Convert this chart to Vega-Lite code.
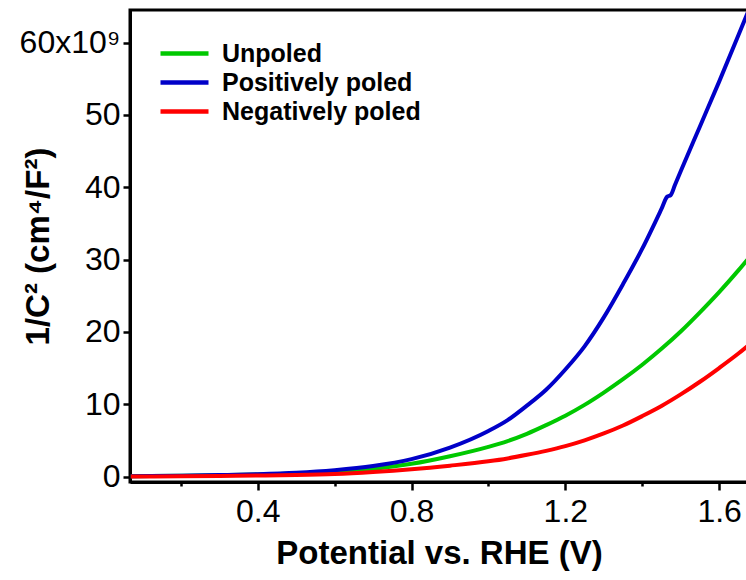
{
  "$schema": "https://vega.github.io/schema/vega-lite/v6.json",
  "width": 618,
  "height": 472,
  "autosize": {"type": "none"},
  "padding": {"left": 130, "top": 10, "right": 0, "bottom": 98},
  "background": "white",
  "config": {
    "view": {"stroke": "black", "strokeWidth": 3},
    "font": "Liberation Sans",
    "axis": {
      "domainColor": "black",
      "domainWidth": 3,
      "tickColor": "black",
      "tickWidth": 2.5,
      "grid": false,
      "labelColor": "black",
      "labelFont": "Liberation Sans",
      "labelFontSize": 32,
      "titleFont": "Liberation Sans",
      "titleFontSize": 33,
      "titleFontWeight": "bold",
      "titleColor": "black"
    }
  },
  "data": {
    "values": [
      {"s": "Unpoled", "v": 0.07, "c": 0.03},
      {"s": "Unpoled", "v": 0.2, "c": 0.1},
      {"s": "Unpoled", "v": 0.3, "c": 0.17},
      {"s": "Unpoled", "v": 0.4, "c": 0.27},
      {"s": "Unpoled", "v": 0.5, "c": 0.42},
      {"s": "Unpoled", "v": 0.6, "c": 0.65},
      {"s": "Unpoled", "v": 0.7, "c": 1.05},
      {"s": "Unpoled", "v": 0.8, "c": 1.75},
      {"s": "Unpoled", "v": 0.9, "c": 2.8},
      {"s": "Unpoled", "v": 1.0, "c": 4.1},
      {"s": "Unpoled", "v": 1.05, "c": 4.9},
      {"s": "Unpoled", "v": 1.1, "c": 5.9},
      {"s": "Unpoled", "v": 1.15, "c": 7.1},
      {"s": "Unpoled", "v": 1.2, "c": 8.4},
      {"s": "Unpoled", "v": 1.25, "c": 9.9},
      {"s": "Unpoled", "v": 1.3, "c": 11.6},
      {"s": "Unpoled", "v": 1.35, "c": 13.45},
      {"s": "Unpoled", "v": 1.4, "c": 15.45},
      {"s": "Unpoled", "v": 1.45, "c": 17.65},
      {"s": "Unpoled", "v": 1.5, "c": 20.05},
      {"s": "Unpoled", "v": 1.55, "c": 22.7},
      {"s": "Unpoled", "v": 1.6, "c": 25.5},
      {"s": "Unpoled", "v": 1.65, "c": 28.5},
      {"s": "Unpoled", "v": 1.68, "c": 30.4},
      {"s": "Positively poled", "v": 0.07, "c": 0.05},
      {"s": "Positively poled", "v": 0.2, "c": 0.12},
      {"s": "Positively poled", "v": 0.3, "c": 0.2},
      {"s": "Positively poled", "v": 0.4, "c": 0.32},
      {"s": "Positively poled", "v": 0.5, "c": 0.52},
      {"s": "Positively poled", "v": 0.6, "c": 0.88},
      {"s": "Positively poled", "v": 0.7, "c": 1.45},
      {"s": "Positively poled", "v": 0.8, "c": 2.4},
      {"s": "Positively poled", "v": 0.9, "c": 4.0},
      {"s": "Positively poled", "v": 1.0, "c": 6.3},
      {"s": "Positively poled", "v": 1.05, "c": 7.8},
      {"s": "Positively poled", "v": 1.1, "c": 9.8},
      {"s": "Positively poled", "v": 1.15, "c": 12.0},
      {"s": "Positively poled", "v": 1.2, "c": 14.8},
      {"s": "Positively poled", "v": 1.25, "c": 18.0},
      {"s": "Positively poled", "v": 1.3, "c": 22.0},
      {"s": "Positively poled", "v": 1.35, "c": 26.6},
      {"s": "Positively poled", "v": 1.4, "c": 31.5},
      {"s": "Positively poled", "v": 1.45, "c": 37.0},
      {"s": "Positively poled", "v": 1.465, "c": 38.7},
      {"s": "Positively poled", "v": 1.474, "c": 38.9},
      {"s": "Positively poled", "v": 1.485, "c": 40.3},
      {"s": "Positively poled", "v": 1.5, "c": 42.2},
      {"s": "Positively poled", "v": 1.55, "c": 48.4},
      {"s": "Positively poled", "v": 1.6, "c": 54.6},
      {"s": "Positively poled", "v": 1.65, "c": 61.0},
      {"s": "Positively poled", "v": 1.69, "c": 66.2},
      {"s": "Negatively poled", "v": 0.07, "c": 0.0},
      {"s": "Negatively poled", "v": 0.2, "c": 0.04},
      {"s": "Negatively poled", "v": 0.3, "c": 0.08},
      {"s": "Negatively poled", "v": 0.4, "c": 0.13},
      {"s": "Negatively poled", "v": 0.5, "c": 0.2},
      {"s": "Negatively poled", "v": 0.6, "c": 0.34},
      {"s": "Negatively poled", "v": 0.7, "c": 0.62},
      {"s": "Negatively poled", "v": 0.8, "c": 1.0},
      {"s": "Negatively poled", "v": 0.9, "c": 1.5},
      {"s": "Negatively poled", "v": 1.0, "c": 2.1},
      {"s": "Negatively poled", "v": 1.05, "c": 2.5},
      {"s": "Negatively poled", "v": 1.1, "c": 3.0},
      {"s": "Negatively poled", "v": 1.15, "c": 3.55},
      {"s": "Negatively poled", "v": 1.2, "c": 4.2},
      {"s": "Negatively poled", "v": 1.25, "c": 5.0},
      {"s": "Negatively poled", "v": 1.3, "c": 5.95},
      {"s": "Negatively poled", "v": 1.35, "c": 7.05},
      {"s": "Negatively poled", "v": 1.4, "c": 8.35},
      {"s": "Negatively poled", "v": 1.45, "c": 9.75},
      {"s": "Negatively poled", "v": 1.5, "c": 11.35},
      {"s": "Negatively poled", "v": 1.55, "c": 13.1},
      {"s": "Negatively poled", "v": 1.6, "c": 15.0},
      {"s": "Negatively poled", "v": 1.65, "c": 17.0},
      {"s": "Negatively poled", "v": 1.68, "c": 18.3}
    ]
  },
  "mark": {"type": "line", "strokeWidth": 4, "clip": true, "interpolate": "monotone"},
  "encoding": {
    "x": {
      "field": "v",
      "type": "quantitative",
      "scale": {"domain": [0.068, 1.675], "nice": false, "zero": false},
      "axis": {
        "title": "Potential vs. RHE (V)",
        "values": [0.2, 0.4, 0.6, 0.8, 1.0, 1.2, 1.4, 1.6],
        "format": ".1f",
        "labelExpr": "round(datum.value*10) % 4 == 0 ? datum.label : ''",
        "tickSize": {"condition": {"test": "round(datum.value*10) % 4 == 0", "value": 8}, "value": 4},
        "labelPadding": 6,
        "titlePadding": 10,
        "labelFlush": false,
        "labelOverlap": false
      }
    },
    "y": {
      "field": "c",
      "type": "quantitative",
      "scale": {"domain": [-0.76, 64.5], "nice": false, "zero": false},
      "axis": {
        "title": "1/C² (cm⁴/F²)",
        "values": [0, 10, 20, 30, 40, 50, 60],
        "labelExpr": "datum.value == 60 ? '60x10⁹' : datum.label",
        "tickSize": 7,
        "labelPadding": 3,
        "labelFlush": false,
        "labelOverlap": false,
        "titleX": -92,
        "titleY": 236,
        "titleBaseline": "middle",
        "titleAlign": "center",
        "titleAngle": 270
      }
    },
    "color": {
      "field": "s",
      "type": "nominal",
      "scale": {
        "domain": ["Unpoled", "Positively poled", "Negatively poled"],
        "range": ["#00C800", "#0000C8", "#FF0000"]
      },
      "legend": {
        "title": null,
        "orient": "none",
        "legendX": 28,
        "legendY": 30,
        "padding": 0,
        "symbolType": "stroke",
        "symbolSize": 2304,
        "symbolStrokeWidth": 4.5,
        "labelFont": "Liberation Sans",
        "labelFontSize": 25,
        "labelFontWeight": "bold",
        "labelColor": "black",
        "labelOffset": 11,
        "labelLimit": 0,
        "clipHeight": 27,
        "rowPadding": 2
      }
    }
  }
}
